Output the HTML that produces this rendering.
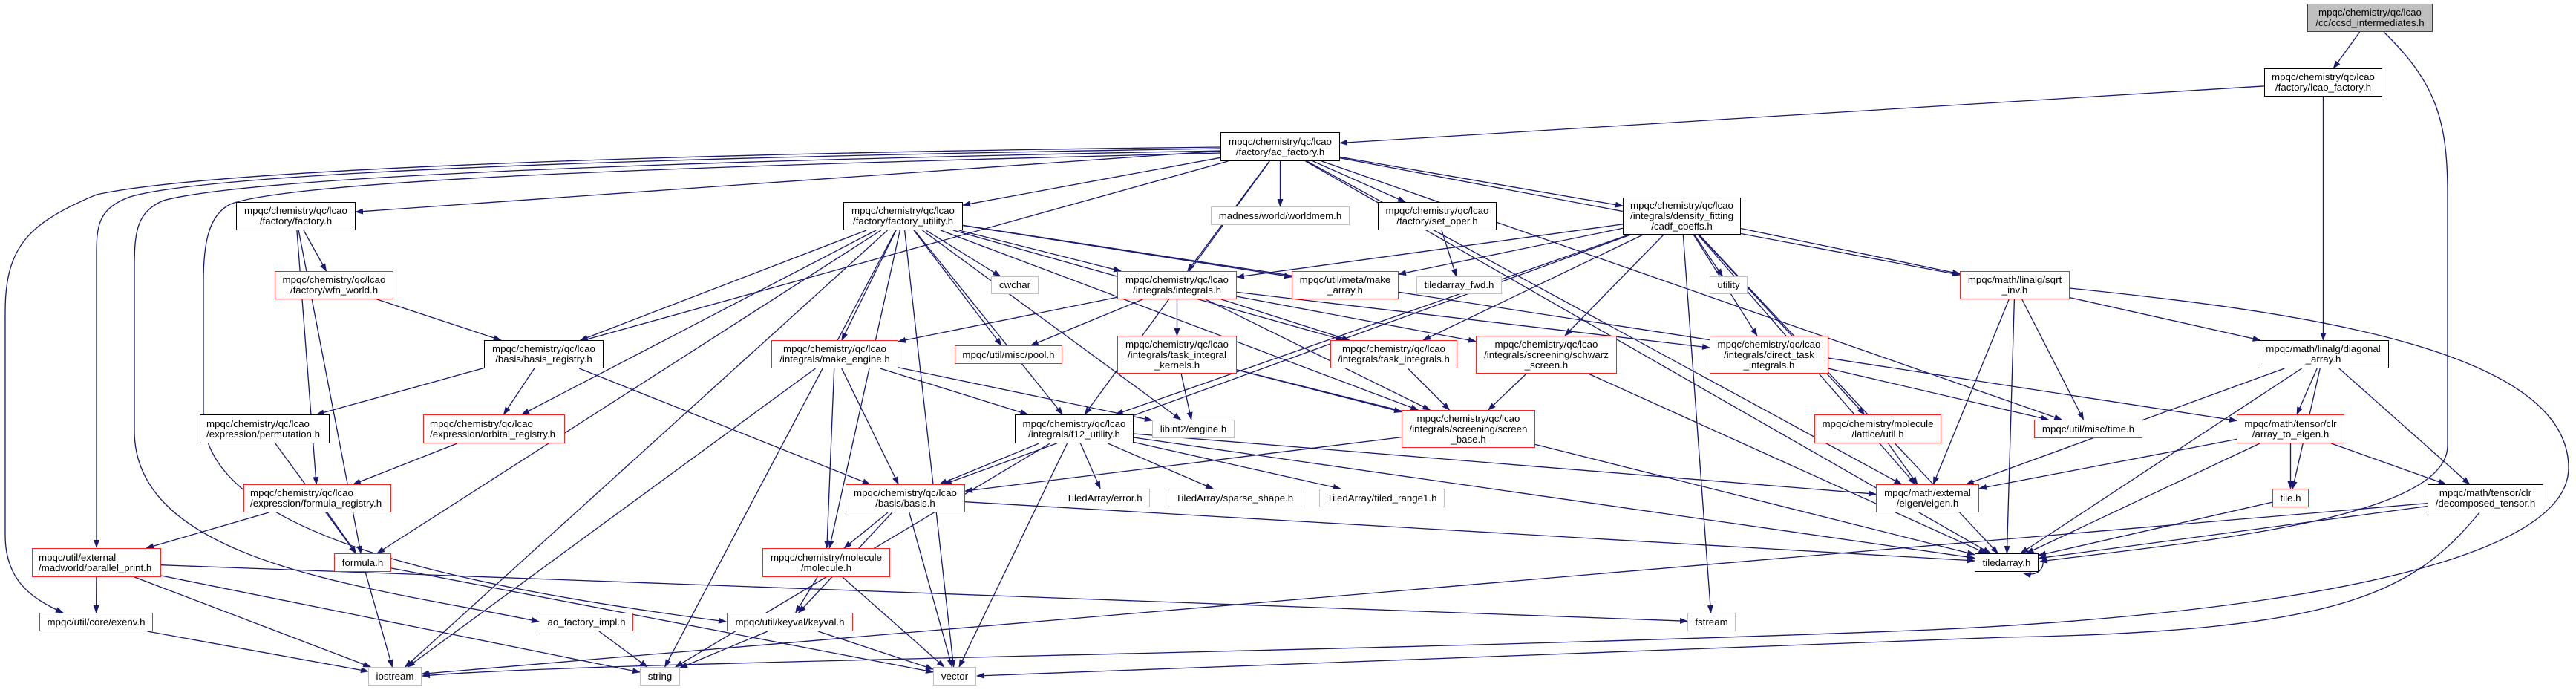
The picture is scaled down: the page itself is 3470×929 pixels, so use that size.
<!DOCTYPE html>
<html><head><meta charset="utf-8">
<style>
html,body{margin:0;padding:0;background:#fff;}
#c{position:relative;width:3470px;height:929px;overflow:hidden;background:#fff;}
svg{position:absolute;left:0;top:0;}
.n{position:absolute;box-sizing:border-box;display:flex;align-items:center;justify-content:center;text-align:center;
font-family:"Liberation Sans",Arial,sans-serif;font-size:13.3px;line-height:14px;color:#000;background:#fff;white-space:nowrap;}
.b{border:1.5px solid #000;}
.r{border:1.5px solid #ff2020;}
.g{border:1.5px solid #bfbfbf;}
.root{border:1.5px solid #404040;background:#bfbfbf;}
.l{justify-content:flex-start;text-align:left;padding-left:8px;}
</style></head><body>
<div id="c">
<svg id="s" width="3470" height="929" xmlns="http://www.w3.org/2000/svg">
<defs><marker id="a" markerUnits="userSpaceOnUse" markerWidth="11" markerHeight="8" refX="10" refY="4" orient="auto"><path d="M0,0 L11,4 L0,8 z" fill="#191970"/></marker></defs>
<g id="e" fill="none" stroke="#191970" stroke-width="1.3"></g>
</svg>
<div class="n root" id="ccsd" style="left:3108px;top:5px;width:169px;height:38px">mpqc/chemistry/qc/lcao<br>/cc/ccsd_intermediates.h</div>
<div class="n b" id="lcaof" style="left:3050px;top:92px;width:159px;height:38px">mpqc/chemistry/qc/lcao<br>/factory/lcao_factory.h</div>
<div class="n b" id="aof" style="left:1644px;top:178px;width:161px;height:39px">mpqc/chemistry/qc/lcao<br>/factory/ao_factory.h</div>
<div class="n b" id="fact" style="left:318px;top:272px;width:161px;height:38px">mpqc/chemistry/qc/lcao<br>/factory/factory.h</div>
<div class="n b" id="futil" style="left:1136px;top:272px;width:161px;height:38px">mpqc/chemistry/qc/lcao<br>/factory/factory_utility.h</div>
<div class="n g" id="world" style="left:1631px;top:278px;width:187px;height:25px">madness/world/worldmem.h</div>
<div class="n b" id="setop" style="left:1856px;top:272px;width:160px;height:38px">mpqc/chemistry/qc/lcao<br>/factory/set_oper.h</div>
<div class="n b" id="dfit" style="left:2186px;top:266px;width:159px;height:50px">mpqc/chemistry/qc/lcao<br>/integrals/density_fitting<br>/cadf_coeffs.h</div>
<div class="n r" id="wfn" style="left:370px;top:365px;width:160px;height:38px">mpqc/chemistry/qc/lcao<br>/factory/wfn_world.h</div>
<div class="n g" id="cwchar" style="left:1335px;top:372px;width:64px;height:24px">cwchar</div>
<div class="n r" id="integ" style="left:1505px;top:365px;width:161px;height:38px">mpqc/chemistry/qc/lcao<br>/integrals/integrals.h</div>
<div class="n r" id="mkarr" style="left:1740px;top:365px;width:144px;height:38px">mpqc/util/meta/make<br>_array.h</div>
<div class="n g" id="tafwd" style="left:1908px;top:372px;width:115px;height:24px">tiledarray_fwd.h</div>
<div class="n g" id="util" style="left:2303px;top:372px;width:51px;height:24px">utility</div>
<div class="n r" id="sqrt" style="left:2640px;top:365px;width:148px;height:38px">mpqc/math/linalg/sqrt<br>_inv.h</div>
<div class="n b" id="breg" style="left:652px;top:458px;width:161px;height:38px">mpqc/chemistry/qc/lcao<br>/basis/basis_registry.h</div>
<div class="n r" id="meng" style="left:1039px;top:458px;width:171px;height:38px">mpqc/chemistry/qc/lcao<br>/integrals/make_engine.h</div>
<div class="n r" id="pool" style="left:1286px;top:465px;width:145px;height:25px">mpqc/util/misc/pool.h</div>
<div class="n r" id="tik" style="left:1505px;top:452px;width:161px;height:51px">mpqc/chemistry/qc/lcao<br>/integrals/task_integral<br>_kernels.h</div>
<div class="n r" id="ti" style="left:1792px;top:458px;width:171px;height:38px">mpqc/chemistry/qc/lcao<br>/integrals/task_integrals.h</div>
<div class="n r" id="schw" style="left:1988px;top:452px;width:190px;height:51px">mpqc/chemistry/qc/lcao<br>/integrals/screening/schwarz<br>_screen.h</div>
<div class="n r" id="dti" style="left:2303px;top:452px;width:160px;height:51px">mpqc/chemistry/qc/lcao<br>/integrals/direct_task<br>_integrals.h</div>
<div class="n b" id="diag" style="left:3041px;top:458px;width:177px;height:38px">mpqc/math/linalg/diagonal<br>_array.h</div>
<div class="n b l" id="perm" style="left:269px;top:558px;width:175px;height:39px">mpqc/chemistry/qc/lcao<br>/expression/permutation.h</div>
<div class="n r l" id="oreg" style="left:570px;top:558px;width:191px;height:39px">mpqc/chemistry/qc/lcao<br>/expression/orbital_registry.h</div>
<div class="n b" id="f12" style="left:1367px;top:558px;width:160px;height:39px">mpqc/chemistry/qc/lcao<br>/integrals/f12_utility.h</div>
<div class="n g" id="lib" style="left:1552px;top:565px;width:111px;height:25px">libint2/engine.h</div>
<div class="n r" id="sbase" style="left:1888px;top:552px;width:180px;height:51px">mpqc/chemistry/qc/lcao<br>/integrals/screening/screen<br>_base.h</div>
<div class="n r" id="latt" style="left:2444px;top:558px;width:171px;height:39px">mpqc/chemistry/molecule<br>/lattice/util.h</div>
<div class="n r" id="time" style="left:2740px;top:565px;width:146px;height:25px">mpqc/util/misc/time.h</div>
<div class="n r" id="a2e" style="left:3013px;top:558px;width:145px;height:39px">mpqc/math/tensor/clr<br>/array_to_eigen.h</div>
<div class="n r l" id="freg" style="left:328px;top:652px;width:199px;height:38px">mpqc/chemistry/qc/lcao<br>/expression/formula_registry.h</div>
<div class="n r" id="basis" style="left:1139px;top:652px;width:161px;height:38px">mpqc/chemistry/qc/lcao<br>/basis/basis.h</div>
<div class="n g" id="err" style="left:1426px;top:658px;width:123px;height:25px">TiledArray/error.h</div>
<div class="n g" id="sps" style="left:1573px;top:658px;width:180px;height:25px">TiledArray/sparse_shape.h</div>
<div class="n g" id="tr1" style="left:1777px;top:658px;width:169px;height:25px">TiledArray/tiled_range1.h</div>
<div class="n r" id="eig" style="left:2527px;top:652px;width:139px;height:38px">mpqc/math/external<br>/eigen/eigen.h</div>
<div class="n r" id="tile" style="left:3061px;top:658px;width:49px;height:25px">tile.h</div>
<div class="n b" id="dec" style="left:3270px;top:652px;width:156px;height:38px">mpqc/math/tensor/clr<br>/decomposed_tensor.h</div>
<div class="n r l" id="pp" style="left:43px;top:738px;width:174px;height:39px">mpqc/util/external<br>/madworld/parallel_print.h</div>
<div class="n r" id="form" style="left:450px;top:745px;width:77px;height:25px">formula.h</div>
<div class="n r" id="mol" style="left:1027px;top:738px;width:172px;height:39px">mpqc/chemistry/molecule<br>/molecule.h</div>
<div class="n b" id="tarr" style="left:2660px;top:745px;width:86px;height:25px">tiledarray.h</div>
<div class="n r" id="exenv" style="left:53px;top:825px;width:153px;height:25px">mpqc/util/core/exenv.h</div>
<div class="n r" id="aoimpl" style="left:727px;top:825px;width:126px;height:25px">ao_factory_impl.h</div>
<div class="n r" id="keyval" style="left:979px;top:825px;width:170px;height:25px">mpqc/util/keyval/keyval.h</div>
<div class="n g" id="fstr" style="left:2273px;top:825px;width:65px;height:25px">fstream</div>
<div class="n g" id="ios" style="left:496px;top:898px;width:72px;height:25px">iostream</div>
<div class="n g" id="str" style="left:862px;top:898px;width:54px;height:25px">string</div>
<div class="n g" id="vec" style="left:1257px;top:898px;width:58px;height:25px">vector</div>
</div>
<script>
(function(){
var E=[
"ccsd lcaof","ccsd tarr","lcaof aof","lcaof diag",
"aof fact","aof futil","aof world","aof setop","aof dfit","aof integ","aof sqrt","aof time","aof eig","aof tarr","aof f12","aof perm","aof pp","aof exenv","aof aoimpl","aof keyval",
"fact wfn","fact freg","fact form",
"wfn breg",
"futil cwchar","futil integ","futil mkarr","futil meng","futil breg","futil oreg","futil pool","futil f12","futil lib","futil mol","futil form","futil str","futil vec","futil ios","futil ti","futil sbase","futil a2e",
"integ meng","integ pool","integ tik","integ ti","integ sbase","integ schw","integ dti",
"dfit integ","dfit mkarr","dfit util","dfit sqrt","dfit ti","dfit schw","dfit dti","dfit latt","dfit eig","dfit tarr","dfit basis","dfit fstr","dfit f12",
"setop tafwd",
"sqrt diag","sqrt time","sqrt eig","sqrt tarr","sqrt ios",
"diag a2e","diag tile","diag dec","diag eig","diag tarr",
"a2e eig","a2e tile","a2e dec","a2e tarr",
"dec tarr","dec vec","dec ios","tile tarr",
"breg oreg","breg basis","oreg freg","freg pp","freg form","perm form",
"meng ios","meng mol","meng basis","meng f12","meng lib",
"tik lib","tik sbase","tik tarr","ti sbase","schw sbase","schw tarr","sbase basis","dti time",
"f12 basis","f12 err","f12 sps","f12 tr1","f12 eig","f12 tarr","f12 str","f12 vec",
"basis mol","basis keyval","basis vec","basis tarr",
"mol keyval","mol vec","latt eig",
"pp exenv","pp ios","pp str","pp fstr",
"form ios","form vec","exenv ios","aoimpl str","keyval str","keyval vec"
];
var C={
"ccsd tarr":"M3211,43 C3280,110 3297,160 3297,260 L3297,600 C3297,700 2950,730 2748,756",
"aof exenv":"M1644,198 C1000,205 300,225 130,262 C40,300 7,330 7,420 L7,720 C7,780 40,805 85,825",
"aof pp":"M1644,200 C1000,210 300,228 175,265 C135,280 130,300 130,340 L130,737",
"aof aoimpl":"M1644,203 C1000,215 350,235 220,270 C185,285 181,310 181,360 L181,580 C181,760 500,790 726,837",
"aof keyval":"M1644,206 C1000,222 400,240 310,275 C280,290 274,330 274,380 L274,560 C274,720 620,790 978,837",
"sqrt ios":"M2788,388 C3100,420 3460,470 3460,630 C3460,770 3000,830 2600,848 C1800,880 800,890 569,910",
"dec vec":"M3340,690 C3250,800 3150,850 2700,858 L1316,910"
};
function box(id){var d=document.getElementById(id);return {x:d.offsetLeft,y:d.offsetTop,w:d.offsetWidth,h:d.offsetHeight};}
function clip(b,px,py){var cx=b.x+b.w/2,cy=b.y+b.h/2,dx=px-cx,dy=py-cy;var t=Math.min(dx?(b.w/2)/Math.abs(dx):1e9,dy?(b.h/2)/Math.abs(dy):1e9);return [cx+dx*t,cy+dy*t];}
var g=document.getElementById('e'),ns="http://www.w3.org/2000/svg";
E.forEach(function(s){var p=s.split(' ');var d;
if(C[s]){d=C[s];}else{var a=box(p[0]),b=box(p[1]);
var ac=[a.x+a.w/2,a.y+a.h/2],bc=[b.x+b.w/2,b.y+b.h/2];
var s1=clip(a,bc[0],bc[1]),e1=clip(b,ac[0],ac[1]);
d='M'+s1[0].toFixed(1)+','+s1[1].toFixed(1)+' L'+e1[0].toFixed(1)+','+e1[1].toFixed(1);}
var path=document.createElementNS(ns,'path');
path.setAttribute('d',d);
path.setAttribute('marker-end','url(#a)');g.appendChild(path);});
var t=box('tarr');var lp=document.createElementNS(ns,'path');
lp.setAttribute('d','M'+(t.x+t.w-10)+','+(t.y)+' C'+(t.x+t.w+12)+','+(t.y-6)+' '+(t.x+t.w+14)+','+(t.y+t.h+10)+' '+(t.x+t.w-20)+','+(t.y+t.h+2));
lp.setAttribute('marker-end','url(#a)');g.appendChild(lp);
})();
</script>
</body></html>
